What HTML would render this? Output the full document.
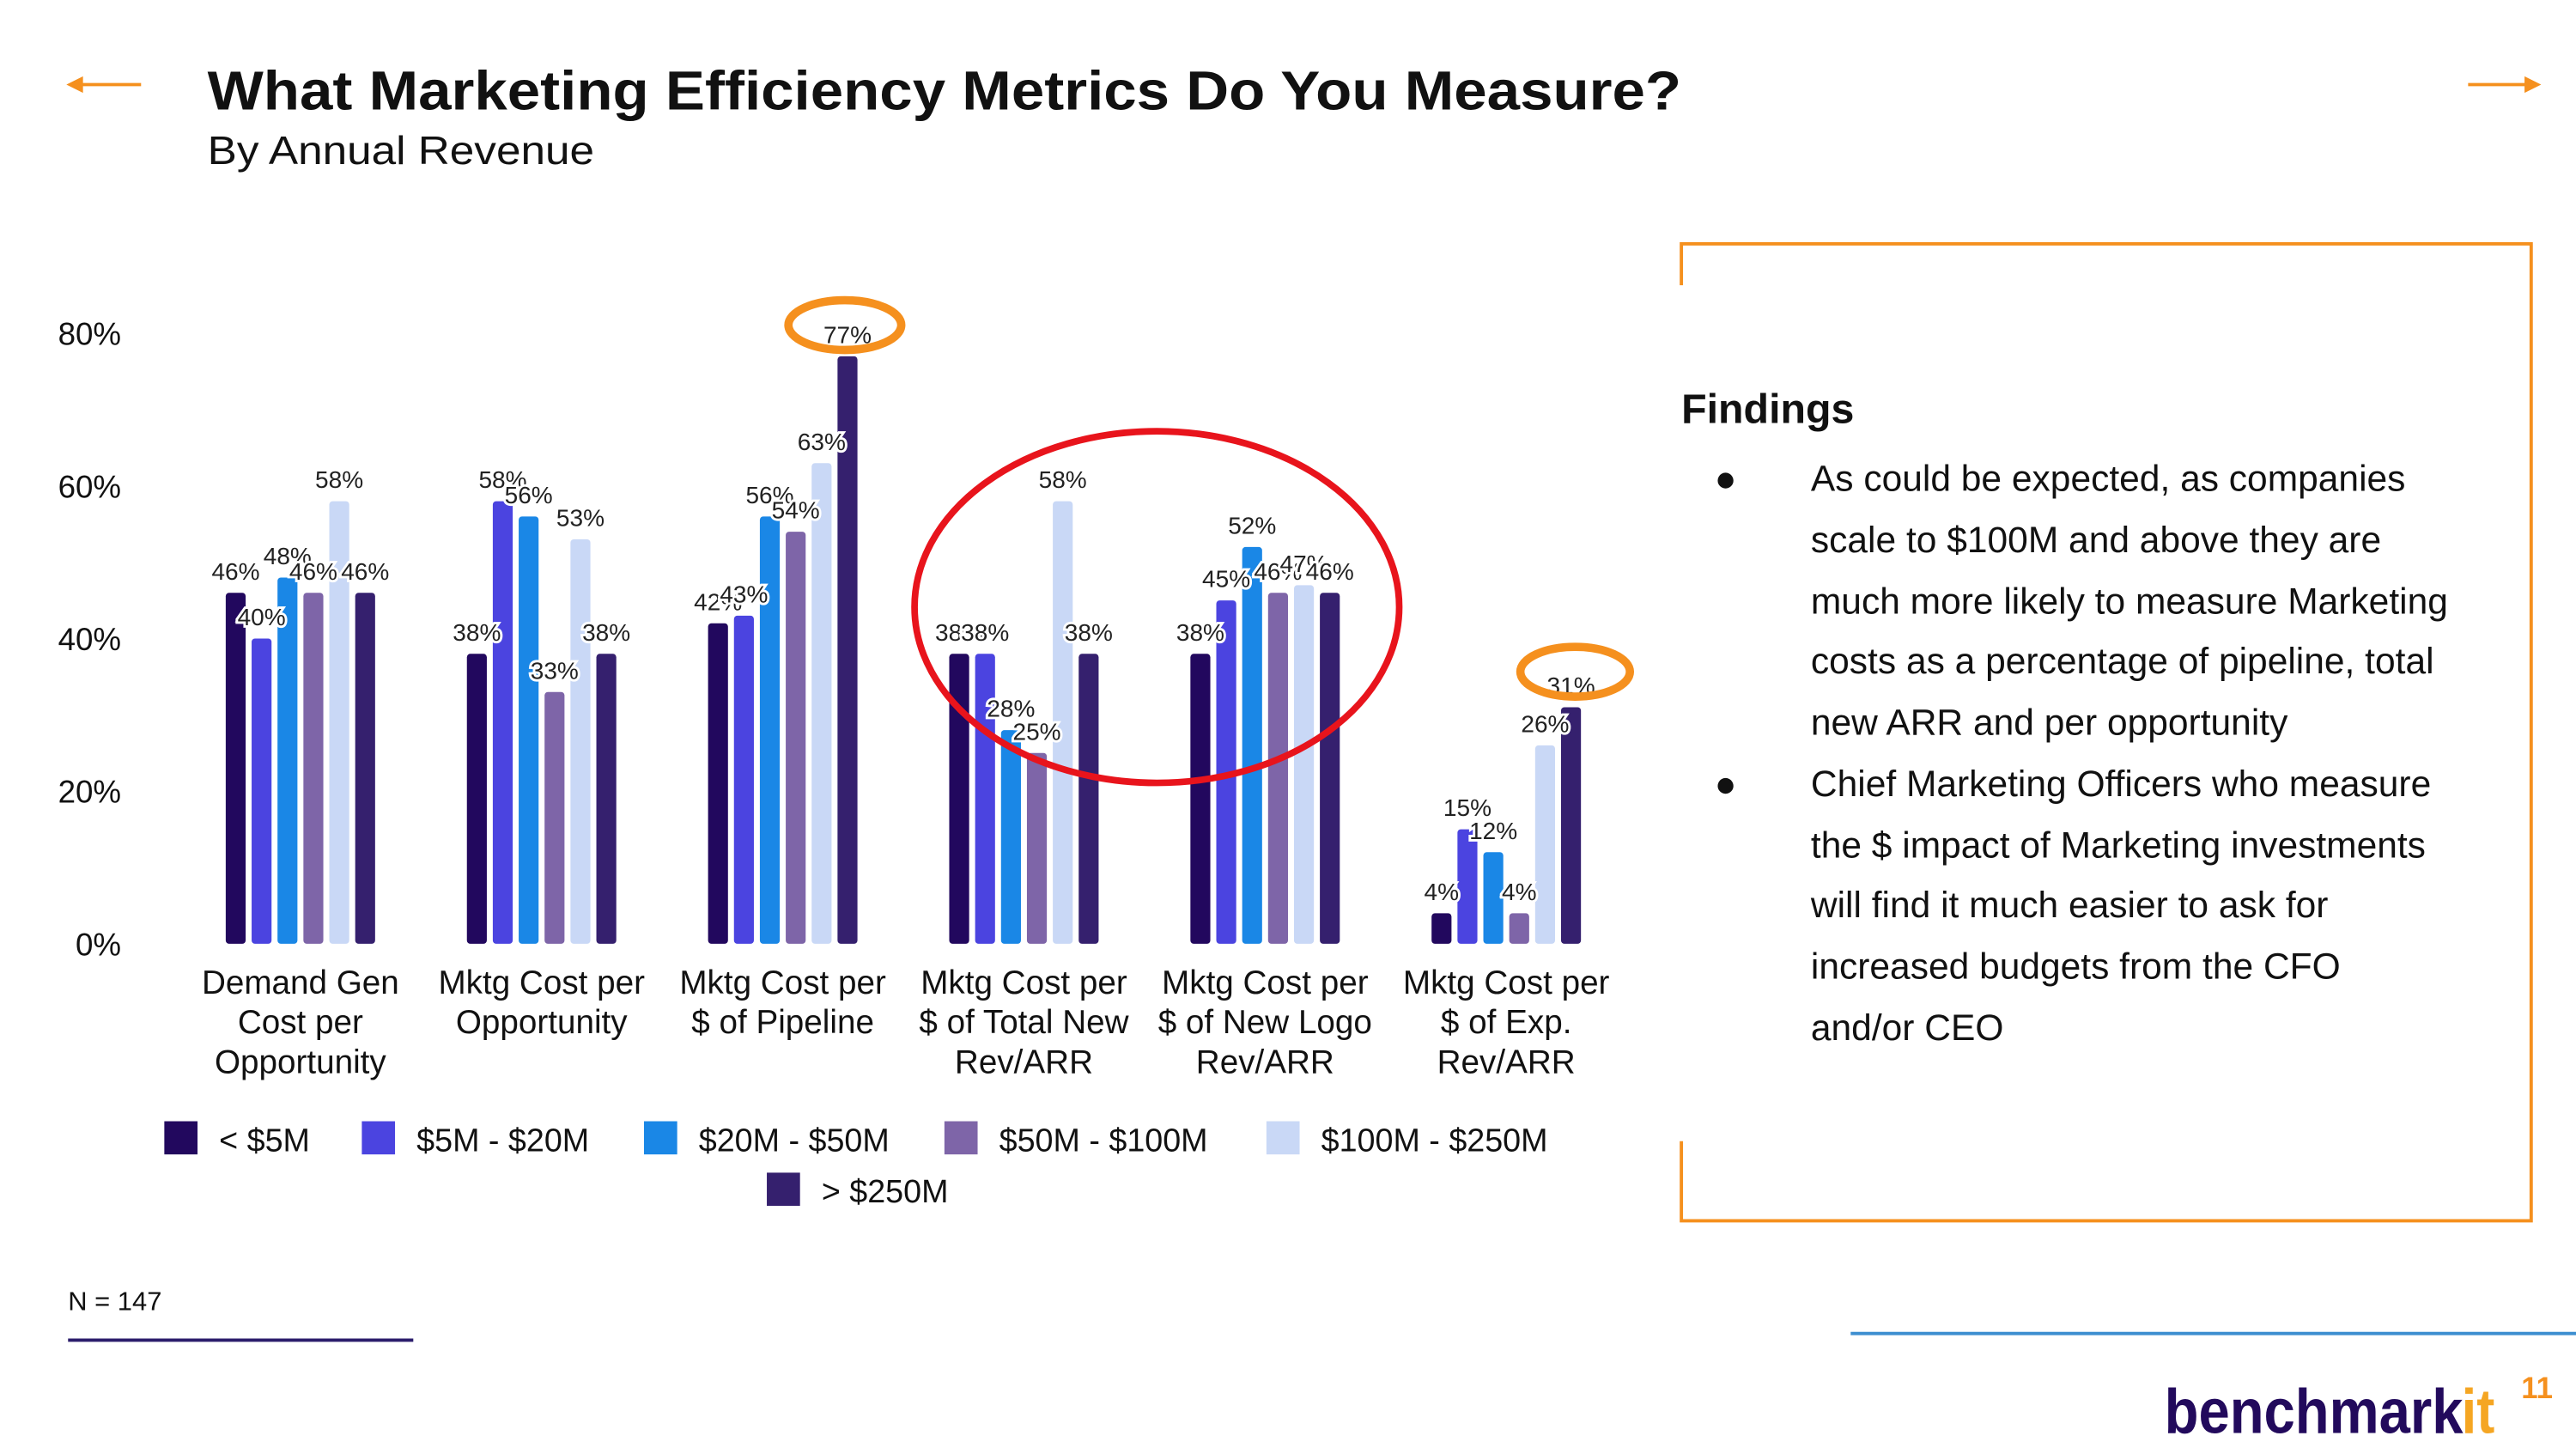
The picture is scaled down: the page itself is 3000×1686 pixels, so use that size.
<!DOCTYPE html>
<html><head><meta charset="utf-8"><style>
html,body{margin:0;padding:0;background:#fff;}
svg{display:block;font-family:"Liberation Sans",sans-serif;}
</style></head><body>
<svg id="chart" width="3000" height="1686" viewBox="0 0 1552 873" preserveAspectRatio="none" xmlns="http://www.w3.org/2000/svg">
<rect width="1552" height="873" fill="#fff"/>
<g><line x1="44" y1="51" x2="85" y2="51" stroke="#f5901e" stroke-width="2"/><path d="M40 51 L50 46 L50 56 Z" fill="#f5901e"/></g>
<g><line x1="1487" y1="51" x2="1525" y2="51" stroke="#f5901e" stroke-width="2"/><path d="M1531 51 L1521 46 L1521 56 Z" fill="#f5901e"/></g>
<text x="125" y="66" font-size="33" font-weight="bold" fill="#111" textLength="888" lengthAdjust="spacingAndGlyphs">What Marketing Efficiency Metrics Do You Measure?</text>
<text x="125" y="99" font-size="24" fill="#111" textLength="233" lengthAdjust="spacingAndGlyphs">By Annual Revenue</text>
<g id="yaxis"></g>
<g id="bars"></g>
<g id="cats"></g>
<ellipse cx="697" cy="366" rx="146" ry="106" fill="none" stroke="#e8141c" stroke-width="4"/>
<ellipse cx="509" cy="196" rx="34" ry="15" fill="none" stroke="#f5901e" stroke-width="5"/>
<ellipse cx="949" cy="405" rx="33" ry="15" fill="none" stroke="#f5901e" stroke-width="5"/>
<g id="legend"></g>
<text x="41" y="790" font-size="16" fill="#111">N = 147</text>
<line x1="41" y1="808" x2="249" y2="808" stroke="#2b1d6b" stroke-width="2"/>
<line x1="1115" y1="804" x2="1552" y2="804" stroke="#3d8fd0" stroke-width="2"/>
<g fill="none" stroke="#f5901e" stroke-width="2">
<path d="M1013 172 L1013 147 L1525 147 L1525 736 L1013 736 L1013 688"/>
</g>
<text x="1013" y="255" font-size="25" font-weight="bold" fill="#111">Findings</text>
<g font-size="22" fill="#111">
<text x="1033" y="296">●</text><text x="1033" y="480">●</text>
<text x="1091" y="296">As could be expected, as companies</text>
<text x="1091" y="333">scale to $100M and above they are</text>
<text x="1091" y="370">much more likely to measure Marketing</text>
<text x="1091" y="406">costs as a percentage of pipeline, total</text>
<text x="1091" y="443">new ARR and per opportunity</text>
<text x="1091" y="480">Chief Marketing Officers who measure</text>
<text x="1091" y="517">the $ impact of Marketing investments</text>
<text x="1091" y="553">will find it much easier to ask for</text>
<text x="1091" y="590">increased budgets from the CFO</text>
<text x="1091" y="627">and/or CEO</text>
</g>
<g>
<text x="1304" y="864" font-size="38" font-weight="bold" fill="#220a5c" textLength="180" lengthAdjust="spacingAndGlyphs">benchmark</text>
<text x="1483" y="864" font-size="38" font-weight="bold" fill="#f5a623" textLength="20" lengthAdjust="spacingAndGlyphs">it</text>
</g>
<text x="1519" y="843" font-size="18" font-weight="bold" fill="#f5901e">11</text>
</svg>
<script>
const categories=[["Demand Gen","Cost per","Opportunity"],["Mktg Cost per","Opportunity"],["Mktg Cost per","$ of Pipeline"],["Mktg Cost per","$ of Total New","Rev/ARR"],["Mktg Cost per","$ of New Logo","Rev/ARR"],["Mktg Cost per","$ of Exp.","Rev/ARR"]];
const seriesNames=["< $5M","$5M - $20M","$20M - $50M","$50M - $100M","$100M - $250M","> $250M"];
const sLt5=[46,38,42,38,38,4];
const s5to20=[40,58,43,38,45,15];
const s20to50=[48,56,56,28,52,12];
const s50to100=[46,33,54,25,46,4];
const s100to250=[58,53,63,58,47,26];
const sGt250=[46,38,77,38,46,31];
const yTicks=[0,20,40,60,80];
const series=[sLt5,s5to20,s20to50,s50to100,s100to250,sGt250];
const colors=["#22085e","#4b44e0","#1a87e6","#7e65a8","#c9d8f6","#35206e"];
const NS="http://www.w3.org/2000/svg";
const y=v=>569-v*4.6;
const gx=i=>181+i*145.3;
const bx=(i,s)=>gx(i)+(s-2.5)*15.6;
function mk(tag,attrs,parent,txt){const e=document.createElementNS(NS,tag);for(const k in attrs)e.setAttribute(k,attrs[k]);if(txt!=null)e.textContent=txt;parent.appendChild(e);return e;}
const ya=document.getElementById('yaxis');
yTicks.forEach(t=>{const e=mk('text',{x:73,y:y(t)+7,'font-size':19,'text-anchor':'end',fill:'#111'},ya,t+'%');

});
const bg=document.getElementById('bars');
series.forEach((arr,s)=>{arr.forEach((v,i)=>{
const cx=bx(i,s);
const r=mk('rect',{x:cx-6,y:y(v),width:12,height:569-y(v),fill:colors[s],rx:2},bg);


});});
series.forEach((arr,s)=>{arr.forEach((v,i)=>{
const cx=bx(i,s);
const t=mk('text',{x:cx,y:y(v)-8,'font-size':14.5,'text-anchor':'middle',fill:'#222',stroke:'#fff','stroke-width':3,'paint-order':'stroke'},bg,v+'%');


});});
const cg=document.getElementById('cats');
categories.forEach((lines,i)=>{lines.forEach((l,j)=>{const t=mk('text',{x:gx(i),y:599+j*24,'font-size':20,'text-anchor':'middle',fill:'#111'},cg,l);

});});
const lg=document.getElementById('legend');
const lpos=[[99,686],[218,686],[388,686],[569,686],[763,686],[462,717]];
seriesNames.forEach((n,s)=>{const [x,yy]=lpos[s];
const g=mk('g',{},lg);


mk('rect',{x:x,y:yy-10,width:20,height:20,fill:colors[s]},g);
mk('text',{x:x+33,y:yy+8,'font-size':19.5,fill:'#111'},g,n);});
</script>
</body></html>
